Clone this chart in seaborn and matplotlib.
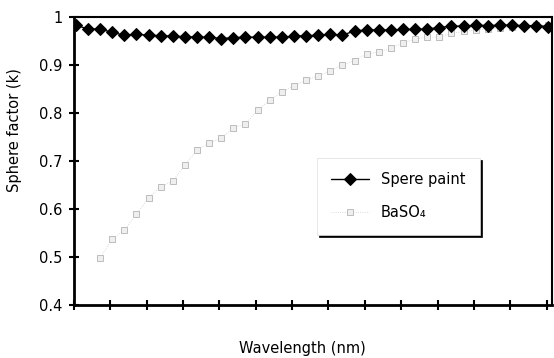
import matplotlib
matplotlib.use("Agg")
import matplotlib.pyplot as plt
import seaborn as sns
import pandas as pd
import numpy as np

wavelength = list(range(380, 780, 10))  # 40 points
sphere_paint = [0.983, 0.975, 0.975, 0.968, 0.962, 0.964, 0.962, 0.961, 0.960, 0.959,
                0.958, 0.958, 0.955, 0.957, 0.958, 0.958, 0.958, 0.958, 0.960, 0.961,
                0.962, 0.964, 0.962, 0.971, 0.973, 0.973, 0.973, 0.974, 0.974, 0.975,
                0.978, 0.981, 0.981, 0.983, 0.982, 0.983, 0.983, 0.982, 0.982, 0.980]
baso4_wl = wavelength[2:]
baso4 = [0.498, 0.537, 0.556, 0.589, 0.623, 0.646, 0.658, 0.692, 0.723, 0.737,
         0.748, 0.769, 0.777, 0.806, 0.827, 0.844, 0.856, 0.869, 0.877, 0.888,
         0.900, 0.909, 0.923, 0.927, 0.935, 0.946, 0.954, 0.958, 0.958, 0.966,
         0.970, 0.973, 0.976, 0.977, 0.979, 0.981, 0.983, 0.983]
yticks = [0.4, 0.5, 0.6, 0.7, 0.8, 0.9, 1.0]
ytick_labels = ["0.4", "0.5", "0.6", "0.7", "0.8", "0.9", "1"]

sns.set_theme(style="white")
plt.rcParams['font.family'] = ['DejaVu Sans']
plt.rcParams['text.color'] = 'black'
plt.rcParams['axes.labelcolor'] = 'black'

fig = plt.figure(figsize=(5.54, 3.58), dpi=100)
ax = fig.add_axes([0.1336, 0.148, 0.8628, 0.8045])

df1 = pd.DataFrame({"wl": wavelength, "k": sphere_paint})
df2 = pd.DataFrame({"wl": baso4_wl, "k": baso4})

sns.lineplot(data=df2, x="wl", y="k", ax=ax, color="#d0d0d0", linewidth=0.6,
             linestyle=":", marker="s", markersize=4.5, markerfacecolor="#efefef",
             markeredgecolor="#b4b4b4", markeredgewidth=0.6, label="BaSO₄")
sns.lineplot(data=df1, x="wl", y="k", ax=ax, color="black", linewidth=1.0,
             marker="D", markersize=5.8, markerfacecolor="black",
             markeredgecolor="black", label="Spere paint")

ax.set_xlim(378.5, 773)
ax.set_ylim(0.4, 1.0)
ax.set_xticks([378.5 + 30 * k for k in range(14)])
ax.set_xticklabels([])
ax.set_yticks(yticks)
ax.set_yticklabels(ytick_labels, fontsize=10.5, color="black")
ax.tick_params(axis="both", direction="inout", length=7, width=1.5, colors="black",
               labelcolor="black", left=True, bottom=True, pad=5)
for s in ax.spines.values():
    s.set_visible(True)
    s.set_color("black")
    s.set_linewidth(1.5)
ax.spines["left"].set_linewidth(2)
ax.spines["bottom"].set_linewidth(2)

ax.set_xlabel("Wavelength (nm)", fontsize=10.5, color="black")
ax.xaxis.set_label_coords(0.477, -0.125)
ax.xaxis.label.set_verticalalignment("top")
ax.set_ylabel("Sphere factor (k)", fontsize=10.5, color="black")
ax.yaxis.set_label_coords(-0.125, 0.608)
ax.yaxis.label.set_verticalalignment("center")

handles, labels = ax.get_legend_handles_labels()
order = [1, 0]
leg = ax.legend([handles[i] for i in order], [labels[i] for i in order],
                loc="lower left", bbox_to_anchor=(0.508, 0.243), borderaxespad=0,
                fontsize=10.5, frameon=True, fancybox=False,
                shadow={"color": "black", "alpha": 1, "ox": 1.5, "oy": -1.5},
                borderpad=1.0, labelspacing=1.25, handlelength=2.6, handletextpad=0.8,
                labelcolor="black")
leg.get_frame().set_edgecolor("#dddddd")
leg.get_frame().set_linewidth(0.5)
leg.get_frame().set_facecolor("white")

fig.savefig("out.png", dpi=100)
